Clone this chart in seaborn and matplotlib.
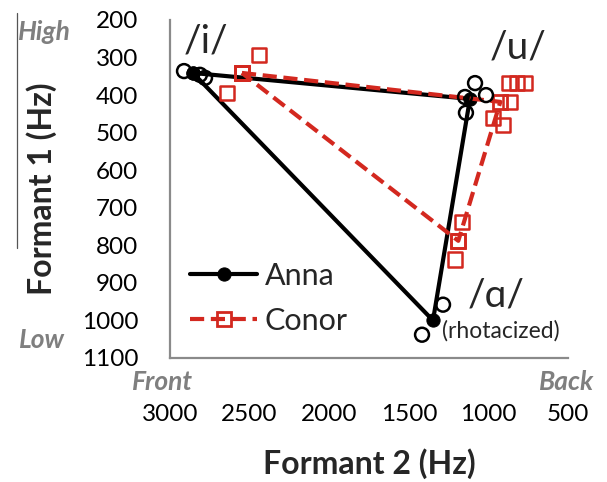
import matplotlib
matplotlib.use("Agg")
import matplotlib.pyplot as plt
from matplotlib.lines import Line2D
import seaborn as sns
import pandas as pd

sns.set_theme(style="white")
plt.rcParams['font.family'] = ['Lato', 'DejaVu Sans']

# ---- data ----
vowels = ["i", "u", "a"]
anna_mean_f2 = [2856, 1116, 1348]
anna_mean_f1 = [341, 410, 1000]
conor_mean_f2 = [2548, 925, 1189]
conor_mean_f1 = [341, 418, 788]

anna_tok_f2 = [2912, 2812, 2780, 1084, 1015, 1147, 1141, 1285, 1417]
anna_tok_f1 = [336, 346, 354, 368, 400, 405, 447, 958, 1038]
conor_tok_f2 = [2441, 2548, 2642, 871, 821, 770, 865, 971, 908, 1166, 1191, 1210]
conor_tok_f1 = [293, 341, 394, 368, 368, 368, 418, 461, 479, 737, 788, 838]

yticks = [200, 300, 400, 500, 600, 700, 800, 900, 1000, 1100]
xticks = [3000, 2500, 2000, 1500, 1000, 500]

RED = "#D3281F"
GRAY = "#8a8a8a"

def closed(f2, f1):
    return pd.DataFrame({"F2": list(f2) + [f2[0]], "F1": list(f1) + [f1[0]]})

anna_df = closed(anna_mean_f2, anna_mean_f1)
conor_df = closed(conor_mean_f2, conor_mean_f1)
anna_tok = pd.DataFrame({"F2": anna_tok_f2, "F1": anna_tok_f1})
conor_tok = pd.DataFrame({"F2": conor_tok_f2, "F1": conor_tok_f1})

W, H = 607, 482
fig = plt.figure(figsize=(W / 100, H / 100), dpi=100)
ax = fig.add_axes([170 / W, 1 - 358 / H, (568 - 170) / W, (358 - 20) / H])

sns.lineplot(data=anna_df, x="F2", y="F1", sort=False, estimator=None, ax=ax,
             color="black", lw=3.0, marker="o", ms=9.5, mfc="black", mec="black",
             label="Anna", zorder=3)
sns.lineplot(data=conor_df, x="F2", y="F1", sort=False, estimator=None, ax=ax,
             color=RED, lw=3.0, linestyle=(0, (3.4, 1.6)), marker="s", ms=10,
             mfc="none", mec=RED, mew=2.0, label="Conor", zorder=4)

sns.scatterplot(data=anna_tok, x="F2", y="F1", ax=ax, marker="o", s=100,
                facecolor="none", edgecolor="black", linewidth=1.8, zorder=5,
                legend=False)
sns.scatterplot(data=conor_tok, x="F2", y="F1", ax=ax, marker="s", s=105,
                facecolor="none", edgecolor=RED, linewidth=1.8, zorder=5,
                legend=False)

ax.set_xlim(3000, 500)
ax.set_ylim(1100, 200)
ax.set_xticks(xticks)
ax.set_yticks(yticks)
ax.set_xticklabels([str(v) for v in xticks])
ax.set_yticklabels([str(v) for v in yticks])

for s in ["top", "right"]:
    ax.spines[s].set_visible(False)
for s in ["left", "bottom"]:
    ax.spines[s].set_color(GRAY)
    ax.spines[s].set_linewidth(1.6)
ax.tick_params(axis="both", which="major", direction="out", length=6, width=1.5,
               color=GRAY, labelsize=17.5, labelcolor="black")
ax.tick_params(axis="y", pad=17)
ax.tick_params(axis="x", pad=27)
ax.grid(False)

ax.set_xlabel("Formant 2 (Hz)", fontsize=23, fontweight="bold")
ax.set_ylabel("Formant 1 (Hz)", fontsize=23, fontweight="bold")
ax.xaxis.set_label_coords(0.501, -0.311)
ax.xaxis.label.set_va("center")
ax.yaxis.set_label_coords(-0.3216, 0.5)
ax.yaxis.label.set_va("center")

leg = ax.legend(loc="upper left", bbox_to_anchor=(190 / W, 1 - 262 / H),
                bbox_transform=fig.transFigure, frameon=False, fontsize=22,
                handlelength=2.2, handletextpad=0.25, labelspacing=0.55,
                borderpad=0, borderaxespad=0)

def ftext(x, y, s, **kw):
    fig.text(x / W, 1 - y / H, s, ha="center", va="center", **kw)

ftext(206, 42, "/i/", fontsize=28)
ftext(518, 48, "/u/", fontsize=28)
ftext(496, 295, "/\u0251/", fontsize=28)
ftext(501, 331, "(rhotacized)", fontsize=16.5)

gkw = dict(color="#7f7f7f", fontweight="bold", fontstyle="italic", fontsize=19)
ftext(44, 32, "High", **gkw)
ftext(42, 340, "Low", **gkw)
ftext(162, 382, "Front", **gkw)
ftext(567, 382, "Back", **gkw)

fig.add_artist(Line2D([17 / W, 17 / W], [1 - 13 / H, 1 - 248 / H],
                      transform=fig.transFigure, color="#555555", lw=0.9))

fig.savefig("out.png", dpi=100)
